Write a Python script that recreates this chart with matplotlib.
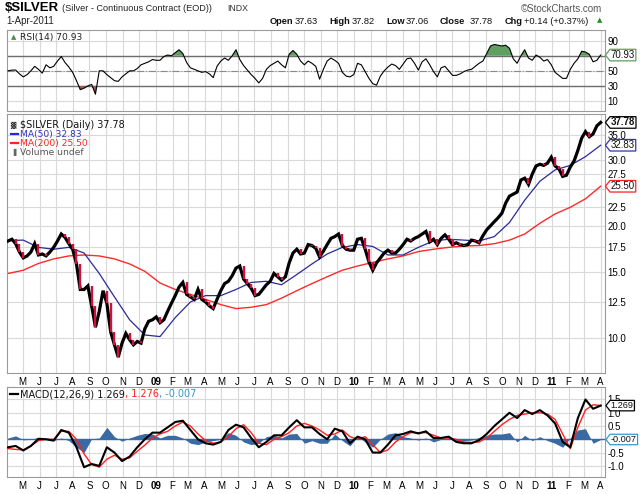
import matplotlib
matplotlib.use("Agg")
import matplotlib.pyplot as plt
from matplotlib.path import Path
import numpy as np
import pandas as pd

# ---------------- data ----------------
week_dates = pd.date_range("2008-04-04", "2011-04-01", freq="W-FRI")  # 157 weekly points

close = [18.2, 18.4, 17.9, 17.0, 16.4, 16.6, 17.0, 17.9, 16.7, 16.8,
         16.6, 17.0, 17.5, 18.2, 19.0, 18.6, 17.9, 17.3, 15.8, 13.5,
         13.5, 13.8, 12.2, 10.7, 11.8, 13.4, 12.4, 10.4, 9.6, 8.9,
         9.7, 10.3, 9.9, 9.6, 9.8, 9.7, 10.6, 11.1, 11.2, 11.4,
         11.0, 11.2, 11.8, 12.4, 13.0, 13.7, 14.1, 13.1, 12.9, 12.7,
         13.5, 12.7, 12.5, 12.2, 12.0, 12.7, 13.4, 14.0, 14.2, 14.7,
         15.4, 15.6, 14.4, 14.0, 13.6, 13.0, 13.1, 13.5, 13.9, 14.2,
         14.9, 14.6, 14.3, 14.6, 15.9, 16.9, 17.3, 16.8, 16.9, 17.8,
         17.7, 17.4, 16.5, 17.1, 17.8, 18.5, 18.7, 19.0, 17.7, 17.3,
         17.2, 17.2, 18.4, 18.5, 17.3, 16.0, 15.2, 15.9, 16.4, 16.9,
         17.2, 16.9, 16.9, 17.3, 17.8, 18.4, 18.2, 18.5, 18.7, 19.0,
         19.3, 18.1, 18.4, 17.8, 18.5, 18.9, 18.4, 17.8, 18.0, 17.8,
         17.7, 17.8, 18.3, 18.2, 18.0, 18.8, 19.5, 20.0, 20.5, 21.0,
         21.6, 23.0, 24.0, 24.3, 24.6, 26.5, 26.8, 25.8, 27.5, 28.9,
         29.2, 29.0, 29.4, 30.5, 28.9, 28.4, 27.1, 27.3, 28.7, 29.8,
         31.8, 34.3, 35.7, 34.6, 35.2, 37.0, 37.78]

rsi = [50, 51, 51, 46, 42, 45, 50, 56, 52, 47,
       58, 54, 56, 63, 69, 61, 55, 48, 37, 25,
       27, 30, 32, 19, 50, 50, 45, 41, 37, 36,
       42, 46, 50, 50, 53, 58, 60, 62, 65, 64,
       64, 69, 71, 70, 74, 78, 73, 61, 54, 52,
       50, 48, 49, 46, 41, 56, 63, 67, 64, 70,
       78, 65, 57, 51, 45, 40, 34, 40, 52, 57,
       60, 63, 58, 54, 72, 77, 72, 63, 58, 63,
       60, 56, 39, 52, 63, 67, 64, 60, 48, 43,
       42, 45, 60, 58, 49, 40, 33, 31, 43, 50,
       55, 59, 57, 52, 59, 66, 67, 60, 51, 62,
       66, 58, 49, 42, 54, 56, 50, 44, 44, 46,
       49, 51, 52, 56, 60, 63, 73, 83, 85, 84,
       83, 84, 80, 66, 60, 70, 78, 67, 64, 71,
       68, 63, 65, 58, 48, 44, 40, 40, 52, 60,
       66, 76, 75, 72, 62, 64, 70.93]

ma_dates = week_dates[::4]
ma50 = [18.25, 18.3, 17.5, 17.3, 17.5, 16.9, 14.9, 12.9, 11.2, 10.2,
        10.1, 11.35, 12.5, 13.0, 13.0, 13.5, 14.1, 14.2, 13.9, 14.8,
        15.8, 16.8, 17.5, 17.8, 17.6, 16.7, 16.7, 17.5, 18.2, 18.4,
        18.3, 18.2, 18.7, 20.4, 23.4, 26.3, 28.2, 29.0, 30.6, 32.83]
ma200 = [14.9, 15.2, 15.85, 16.3, 16.6, 16.7, 16.6, 16.3, 15.8, 15.1,
         14.05, 13.5, 13.1, 12.7, 12.3, 12.0, 12.1, 12.3, 12.8, 13.4,
         14.0, 14.6, 15.2, 15.6, 15.95, 16.3, 16.6, 17.05, 17.3, 17.5,
         17.65, 17.7, 17.9, 18.3, 19.0, 20.3, 21.5, 22.4, 23.6, 25.5]

macd_dates = week_dates[::2]
macd = [-0.30, -0.25, -0.42, -0.25, 0.02, 0.0, -0.05, 0.35, 0.25, -0.3,
        -1.05, -0.93, -1.0, -0.3, -0.5, -0.82, -0.65, -0.3, 0.0, 0.25,
        0.25, 0.45, 0.65, 0.7, 0.35, 0.0, -0.15, -0.2, -0.1, 0.35,
        0.55, 0.45, 0.05, -0.3, -0.1, 0.15, 0.15, 0.45, 0.72, 0.45,
        0.45, 0.2, 0.0, 0.4, 0.3, -0.15, 0.1, 0.0, -0.5, -0.5,
        -0.2, 0.15, 0.2, 0.3, 0.22, 0.3, 0.05, 0.05, 0.1, -0.1,
        -0.15, -0.15, -0.03, 0.2, 0.5, 0.75, 1.0, 0.8, 1.1, 0.95,
        1.1, 0.9, 0.6, -0.1, -0.3, 0.8, 1.5, 1.15, 1.269]
signal = [-0.35, -0.38, -0.4, -0.25, -0.05, 0.0, 0.0, 0.3, 0.3, 0.0,
          -0.55, -0.95, -1.05, -0.75, -0.6, -0.75, -0.7, -0.45, -0.22, 0.05,
          0.2, 0.3, 0.5, 0.65, 0.5, 0.2, -0.05, -0.15, -0.1, 0.1,
          0.4, 0.55, 0.25, -0.15, -0.2, 0.0, 0.1, 0.25, 0.5, 0.6,
          0.5, 0.35, 0.15, 0.2, 0.35, 0.1, 0.0, 0.1, -0.2, -0.5,
          -0.4, -0.1, 0.1, 0.25, 0.25, 0.25, 0.15, 0.05, 0.05, 0.0,
          -0.1, -0.12, -0.1, 0.05, 0.3, 0.55, 0.75, 0.9, 0.95, 1.0,
          1.0, 0.95, 0.75, 0.2, -0.35, 0.45, 1.1, 1.3, 1.276]

month_starts = pd.date_range("2008-05-01", "2011-04-01", freq="MS")
month_labels = ["M", "J", "J", "A", "S", "O", "N", "D",
                "09", "F", "M", "A", "M", "J", "J", "A", "S", "O", "N", "D",
                "10", "F", "M", "A", "M", "J", "J", "A", "S", "O", "N", "D",
                "11", "F", "M", "A"]

price_ticks = [10.0, 12.5, 15.0, 17.5, 20.0, 22.5, 25.0, 27.5, 30.0, 35.0]
price_tick_labels = ["10.0", "12.5", "15.0", "17.5", "20.0", "22.5", "", "27.5", "30.0", "35.0"]
rsi_ticks = [10, 30, 50, 70, 90]
rsi_tick_labels = ["10", "30", "50", "", "90"]
macd_ticks = [-1.0, -0.5, 0.0, 0.5, 1.0, 1.5]
macd_tick_labels = ["-1.0", "-0.5", "", "0.5", "1.0", "1.5"]

# ---------------- figure ----------------
W, H = 640, 494
fig = plt.figure(figsize=(W / 100, H / 100), dpi=100)
fig.patch.set_facecolor("white")

TICKFONT = "Liberation Sans"
LEGFONT = "DejaVu Sans"

def px_axes(x0, y0, x1, y1):
    return fig.add_axes([x0 / W, 1 - y1 / H, (x1 - x0) / W, (y1 - y0) / H])

ax_rsi = px_axes(7, 30, 605, 111)
ax_main = px_axes(7, 114, 605, 373)
ax_macd = px_axes(7, 387, 605, 477)

xlim = (pd.Timestamp("2008-04-02"), pd.Timestamp("2011-04-09"))
GRID = "#d9d9d9"

for ax in (ax_rsi, ax_main, ax_macd):
    ax.set_xlim(*xlim)
    ax.set_xticks(month_starts)
    ax.grid(True, color=GRID, lw=0.8)
    ax.set_axisbelow(True)
    for s in ax.spines.values():
        s.set_color("#9a9a9a")
        s.set_linewidth(0.8)
    ax.yaxis.tick_right()
    ax.tick_params(axis="both", length=0, labelsize=7, pad=2)

# ---------------- RSI ----------------
r = np.array(rsi, dtype=float)
ax_rsi.plot(week_dates, r, color="black", lw=0.8, zorder=3)
ax_rsi.fill_between(week_dates, r, 70, where=r > 70, interpolate=True,
                    color="#5f9f5f", lw=0, zorder=2)
ax_rsi.fill_between(week_dates, r, 30, where=r < 30, interpolate=True,
                    color="#a85454", lw=0, zorder=2)
ax_rsi.axhline(70, color="#6e6e6e", lw=1.0, zorder=1.5)
ax_rsi.axhline(30, color="#6e6e6e", lw=1.0, zorder=1.5)
ax_rsi.axhline(50, color="#8a8a8a", lw=0.8, ls="-.", zorder=1.5)
ax_rsi.set_ylim(-3.3, 104.2)
ax_rsi.set_yticks(rsi_ticks)
ax_rsi.set_yticklabels(rsi_tick_labels, fontfamily=TICKFONT)
ax_rsi.set_xticklabels([])
ax_rsi.text(0.006, 0.91, "\u25B2", transform=ax_rsi.transAxes, fontsize=5,
            color="#4a8a4a", va="center", ha="left")
ax_rsi.text(0.021, 0.91, "RSI(14) 70.93", transform=ax_rsi.transAxes,
            fontsize=6.6, fontfamily=LEGFONT, color="#222222", va="center", ha="left")

# ---------------- price ----------------
c = np.array(close)
ax_main.set_yscale("log")
ax_main.plot(ma_dates, ma200, color="#ff2a2a", lw=1.0, zorder=2)
ax_main.plot(ma_dates, ma50, color="#2a2a9a", lw=0.9, zorder=2)
ax_main.plot(week_dates, c, color="black", lw=2.3, zorder=3,
             solid_joinstyle="miter")
down = np.r_[False, c[1:] < c[:-1]]
prev = np.r_[c[0], c[:-1]]
ax_main.vlines(week_dates[down], prev[down], c[down], color="#d0103a",
               lw=1.7, zorder=4)
ax_main.set_ylim(8.07, 39.8)
ax_main.set_yticks(price_ticks)
ax_main.set_yticklabels(price_tick_labels, fontfamily=TICKFONT)
ax_main.yaxis.set_minor_locator(matplotlib.ticker.NullLocator())

leg_y = [0.957, 0.922, 0.887, 0.852]
ax_main.text(0.006, leg_y[0], "\u2593", transform=ax_main.transAxes,
             fontsize=5, color="#333333", va="center")
ax_main.text(0.021, leg_y[0], "$SILVER (Daily) 37.78", transform=ax_main.transAxes,
             fontsize=6.9, fontfamily=LEGFONT, color="#111111", va="center")
ax_main.plot([0.006, 0.019], [leg_y[1]] * 2, transform=ax_main.transAxes,
             color="#2a2acc", lw=1.6)
ax_main.text(0.021, leg_y[1], "MA(50) 32.83", transform=ax_main.transAxes,
             fontsize=6.6, fontfamily=LEGFONT, color="#3333bb", va="center")
ax_main.plot([0.006, 0.019], [leg_y[2]] * 2, transform=ax_main.transAxes,
             color="#ff2020", lw=1.6)
ax_main.text(0.021, leg_y[2], "MA(200) 25.50", transform=ax_main.transAxes,
             fontsize=6.6, fontfamily=LEGFONT, color="#ff2020", va="center")
ax_main.text(0.006, leg_y[3], "\u2590", transform=ax_main.transAxes,
             fontsize=5, color="#666666", va="center")
ax_main.text(0.021, leg_y[3], "Volume undef", transform=ax_main.transAxes,
             fontsize=6.6, fontfamily=LEGFONT, color="#555555", va="center")

# ---------------- MACD ----------------
m = np.array(macd)
s = np.array(signal)
hist = m - s
ax_macd.fill_between(macd_dates, hist, 0, color="#3a6aa3", lw=0, zorder=2)
ax_macd.axhline(0, color="#3a6aa3", lw=1.0, zorder=2)
ax_macd.plot(macd_dates, s, color="#ff2020", lw=1.0, zorder=3)
ax_macd.plot(macd_dates, m, color="black", lw=1.5, zorder=4)
ax_macd.set_ylim(-1.42, 1.97)
ax_macd.set_yticks(macd_ticks)
ax_macd.set_yticklabels(macd_tick_labels, fontfamily=TICKFONT)
ax_macd.plot([0.005, 0.019], [0.92, 0.92], transform=ax_macd.transAxes,
             color="black", lw=1.6)

renderer = fig.canvas.get_renderer()
def chain(ax, x, y, parts, **kw):
    inv = ax.transAxes.inverted()
    for s_, col in parts:
        t = ax.text(x, y, s_, transform=ax.transAxes, color=col, va="center", **kw)
        bb = t.get_window_extent(renderer)
        x = inv.transform((bb.x1, bb.y0))[0]

chain(ax_macd, 0.022, 0.92,
      [("MACD(12,26,9) 1.269", "#111111"), (", 1.276", "#ff2020"), (", -0.007", "#3399cc")],
      fontsize=7.0, fontfamily=LEGFONT)

# ---------------- x tick labels ----------------
for ax in (ax_main, ax_macd):
    ax.set_xticklabels(month_labels, fontfamily=TICKFONT, fontsize=7)
    for lab in ax.get_xticklabels():
        if lab.get_text().isdigit():
            lab.set_fontweight("bold")
    ax.tick_params(axis="x", pad=3)

# ---------------- right-side value tags ----------------
def tag_shape(x0, y0, width, height, mutation_size):
    pad = 0.08 * mutation_size
    x0, y0 = x0 - pad, y0 - pad
    w, h = width + 2 * pad, height + 2 * pad
    tip = 0.4 * h
    verts = [(x0 - tip, y0 + h / 2), (x0, y0), (x0 + w, y0),
             (x0 + w, y0 + h), (x0, y0 + h), (x0 - tip, y0 + h / 2)]
    codes = [Path.MOVETO] + [Path.LINETO] * 4 + [Path.CLOSEPOLY]
    return Path(verts, codes)

def tag(ax, val, label, ec, bold=False, size=7):
    ax.annotate(label, xy=(1.0, val), xycoords=ax.get_yaxis_transform(),
                xytext=(4.2, 0), textcoords="offset points",
                ha="left", va="center", fontsize=size, fontfamily=TICKFONT,
                fontweight="bold" if bold else "normal", color="#111111",
                bbox=dict(boxstyle=tag_shape, fc="white", ec=ec, lw=0.9),
                annotation_clip=False, zorder=10)

tag(ax_rsi, 70.93, "70.93", "#5f9f5f")
tag(ax_main, 37.78, "37.78", "black", bold=True)
tag(ax_main, 32.83, "32.83", "#3333bb")
tag(ax_main, 25.50, "25.50", "#ff2020")
tag(ax_macd, 1.269, "1.269", "black", size=6.6)
tag(ax_macd, -0.007, "-0.007", "#3399cc", size=6.6)

# ---------------- header ----------------
def htext(x, y, s_, **kw):
    t = fig.text(x / W, 1 - y / H, s_, va="center", ha="left", **kw)
    return t.get_window_extent(renderer).x1

x_end = htext(5, 8, "$SILVER", fontsize=9.5, fontweight="bold", fontfamily=TICKFONT)
x_end = htext(x_end + 3, 8.5, "(Silver - Continuous Contract (EOD))",
              fontsize=6.6, fontfamily=TICKFONT, color="#222222")
htext(max(227, x_end + 6), 8.5, "INDX", fontsize=6.3, fontfamily=TICKFONT, color="#333333")
fig.text(602 / W, 1 - 8.5 / H, "\u00a9StockCharts.com", va="center", ha="right",
         fontsize=7, fontfamily=TICKFONT, color="#555555")
htext(6, 21, "1-Apr-2011", fontsize=7, fontfamily=TICKFONT, color="#222222")

header = [("Open", 270, "bold"), ("37.63", 295, "normal"),
          ("High", 329, "bold"), ("37.82", 352, "normal"),
          ("Low", 386, "bold"), ("37.06", 406, "normal"),
          ("Close", 440, "bold"), ("37.78", 470, "normal"),
          ("Chg", 505, "bold"), ("+0.14 (+0.37%)", 523.5, "normal")]
for s_, x, w in header:
    fig.text(x / W, 1 - 21 / H, s_, va="center", ha="left", fontsize=6.7,
             fontweight=w, fontfamily=TICKFONT, color="#111111")
fig.text(597 / W, 1 - 20.5 / H, "\u25B2", va="center", ha="left",
         fontsize=5, color="#2e8b2e")

fig.savefig("out.png", dpi=100, facecolor="white")
